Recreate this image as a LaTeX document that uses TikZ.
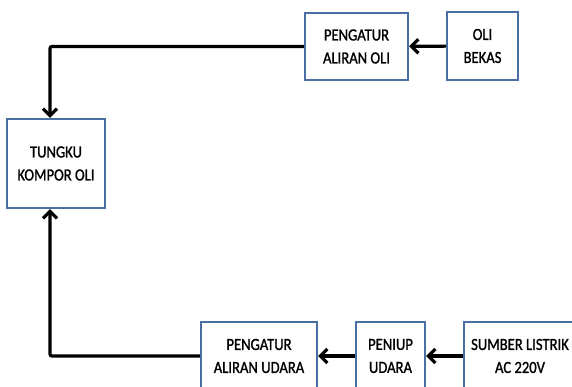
\documentclass[tikz,border=0pt]{standalone}
\usepackage{fontspec}
\setmainfont{Carlito}[FakeStretch=0.86,FakeBold=1.2]
\usetikzlibrary{arrows.meta,positioning}
\definecolor{biru}{HTML}{4A6FA5}

\begin{document}
\begin{tikzpicture}[x=1pt,y=-1pt,
    kotak/.style={draw=biru,line width=2.4pt,fill=white,align=center,
        inner sep=0pt,minimum height=68pt,font=\fontsize{17}{23}\selectfont},
    panah/.style={line width=3.2pt,rounded corners=2pt,
        -{Straight Barb[length=7pt,width=14pt]}}]
    % ---- Batas gambar ----
    \clip (0,0) rectangle (572,387);

    % ---- Kotak atas ----
    \node[kotak,minimum width=103pt,minimum height=67pt] (pengaturOli) at (356.5,46.5) {PENGATUR\\ALIRAN OLI};
    \node[kotak,minimum width=71pt] (oliBekas) at (482.5,46) {OLI\\BEKAS};

    % ---- Tungku ----
    \node[kotak,minimum width=98pt,minimum height=89pt] (tungku) at (56,163.5) {TUNGKU\\KOMPOR OLI};

    % ---- Kotak bawah ----
    \node[kotak,minimum width=116pt] (pengaturUdara) at (259,356) {PENGATUR\\ALIRAN UDARA};
    \node[kotak,minimum width=69pt] (peniup) at (390.5,356) {PENIUP\\UDARA};
    \node[kotak,minimum width=112pt] (sumber) at (520,356) {SUMBER LISTRIK\\AC 220V};

    % ---- Titik belok ----
    \coordinate (belokAtas) at (50,44);
    \coordinate (belokBawah) at (50,355);

    % ---- Panah ----
    \draw[panah] (oliBekas) -- (pengaturOli);
    \draw[panah] (pengaturOli.west) -| (belokAtas |- tungku.north);
    \draw[panah] (sumber) -- (peniup);
    \draw[panah] (peniup) -- (pengaturUdara);
    \draw[panah] (pengaturUdara.west) -| (belokBawah |- tungku.south);
\end{tikzpicture}
\end{document}
